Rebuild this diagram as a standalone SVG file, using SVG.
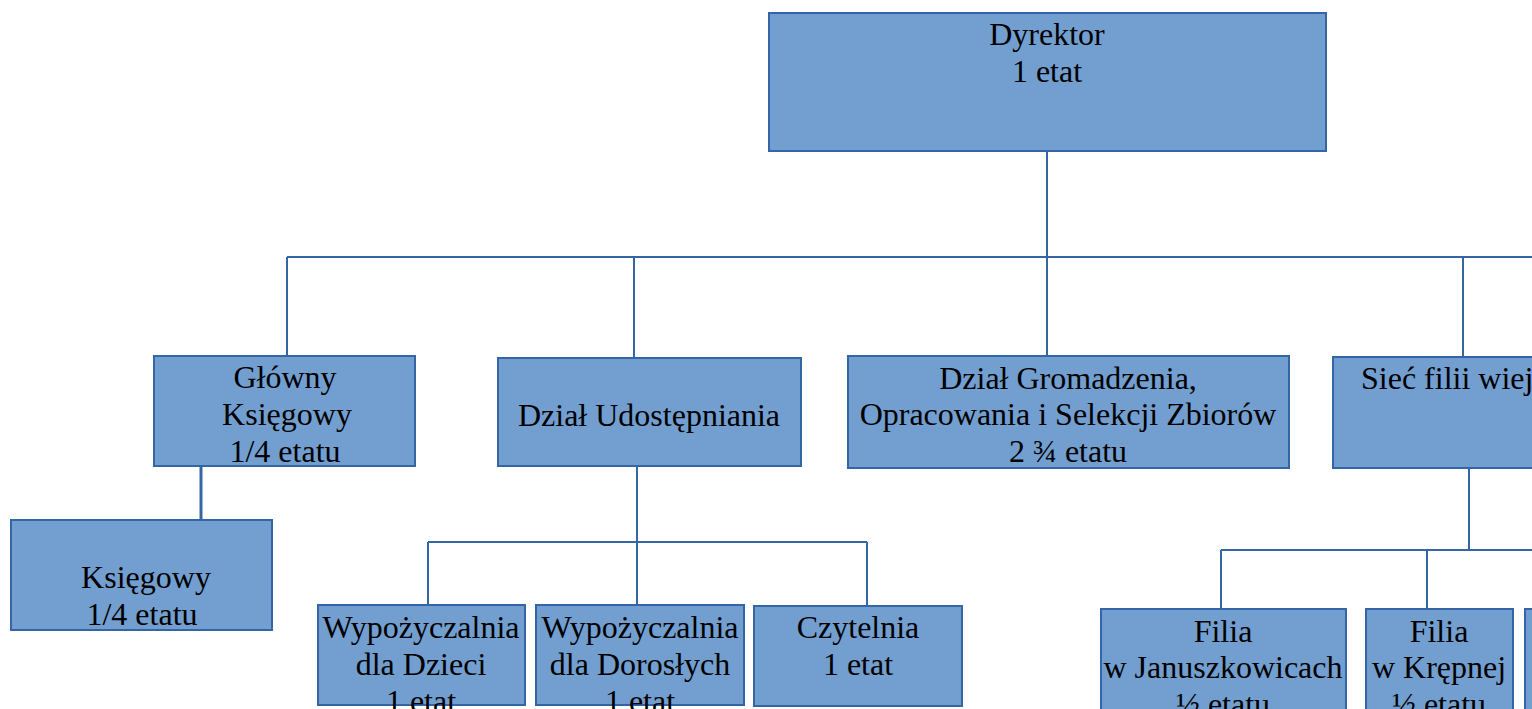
<svg xmlns="http://www.w3.org/2000/svg" width="1532" height="709" viewBox="0 0 1532 709">
<style>
.box{fill:#729fcf;stroke:#3465a4;stroke-width:2}
.t{font-family:"Liberation Serif","DejaVu Serif",serif;font-size:32px;fill:#000;text-anchor:middle}
.tl{font-family:"Liberation Serif","DejaVu Serif",serif;font-size:32px;fill:#000}
.c{fill:none;stroke:#3465a4;stroke-width:2}
</style>
<rect width="1532" height="709" fill="#fff"/>
<g id="connectors">
<path class="c" d="M1047 151V257M287 257H1532M287 257V356M634 257V358M1047 257V356M1463 257V357"/>
<path class="c" d="M201 466V520" style="stroke-width:3"/>
<path class="c" d="M637 466V542M428 542H867M428 542V605M637 542V605M867 542V606"/>
<path class="c" d="M1469 468V550M1221 550H1532M1221 550V609M1427 550V609"/>
</g>
<g id="dyrektor"><rect class="box" x="769" y="13" width="557" height="138"/><text class="t" x="1047" y="45">Dyrektor</text><text class="t" x="1047" y="82">1 etat</text></g>
<g id="glowny-ksiegowy"><rect class="box" x="154" y="356" width="261" height="110"/><text class="t" x="285" y="388">Główny</text><text class="t" x="287" y="425">Księgowy</text><text class="t" x="285" y="462">1/4 etatu</text></g>
<g id="ksiegowy"><rect class="box" x="11" y="520" width="261" height="110"/><text class="t" x="146" y="588">Księgowy</text><text class="t" x="142" y="625">1/4 etatu</text></g>
<g id="dzial-udostepniania"><rect class="box" x="498" y="358" width="303" height="108"/><text class="t" x="649" y="426">Dział Udostępniania</text></g>
<g id="dzial-gromadzenia"><rect class="box" x="848" y="356" width="441" height="112"/><text class="t" x="1068" y="389">Dział Gromadzenia,</text><text class="t" x="1068" y="425">Opracowania i Selekcji Zbiorów</text><text class="t" x="1068" y="462">2 ¾ etatu</text></g>
<g id="siec-filii"><rect class="box" x="1333" y="357" width="220" height="111"/><text class="tl" x="1361" y="389">Sieć filii wiej</text></g>
<g id="wypozyczalnia-dzieci"><rect class="box" x="318" y="605" width="207" height="100"/><text class="t" x="421" y="638">Wypożyczalnia</text><text class="t" x="421" y="675">dla Dzieci</text><text class="t" x="421" y="712">1 etat</text></g>
<g id="wypozyczalnia-doroslych"><rect class="box" x="536" y="605" width="208" height="100"/><text class="t" x="640" y="638">Wypożyczalnia</text><text class="t" x="640" y="675">dla Dorosłych</text><text class="t" x="640" y="712">1 etat</text></g>
<g id="czytelnia"><rect class="box" x="754" y="606" width="208" height="100"/><text class="t" x="858" y="638">Czytelnia</text><text class="t" x="858" y="675">1 etat</text></g>
<g id="filia-januszkowice"><rect class="box" x="1101" y="609" width="245" height="110"/><text class="t" x="1223" y="642">Filia</text><text class="t" x="1223" y="678">w Januszkowicach</text><text class="t" x="1223" y="715">½ etatu</text></g>
<g id="filia-krepna"><rect class="box" x="1366" y="609" width="147" height="110"/><text class="t" x="1439" y="642">Filia</text><text class="t" x="1439" y="678">w Krępnej</text><text class="t" x="1439" y="715">½ etatu</text></g>
<g id="filia-next"><rect class="box" x="1525" y="609" width="40" height="110"/></g>
</svg>
